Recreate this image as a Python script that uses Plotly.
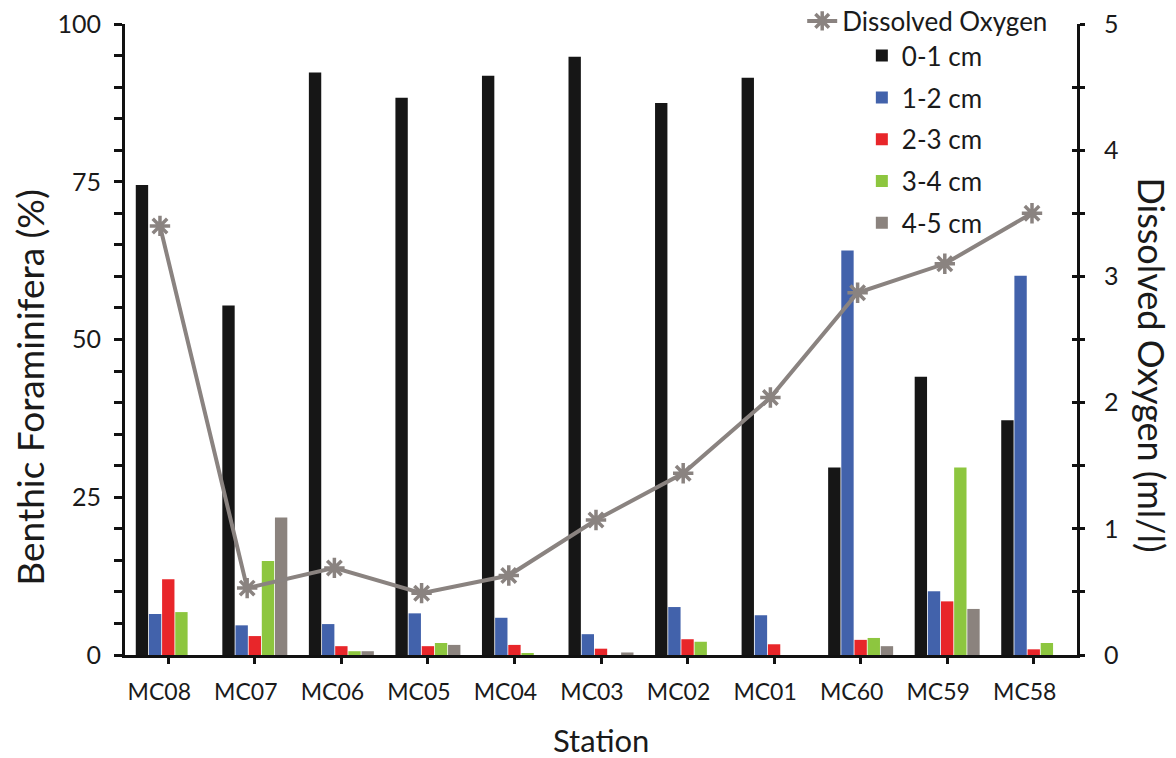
import plotly.graph_objects as go

# Stations along the transect
stations = ["MC08", "MC07", "MC06", "MC05", "MC04", "MC03",
            "MC02", "MC01", "MC60", "MC59", "MC58"]

# Benthic foraminifera (%) per sediment depth interval
depth_0_1 = [74.5, 55.4, 92.3, 88.3, 91.8, 94.8, 87.5, 91.5, 29.7, 44.1, 37.2]
depth_1_2 = [6.5, 4.7, 4.9, 6.6, 5.9, 3.3, 7.6, 6.3, 64.1, 10.1, 60.1]
depth_2_3 = [12.0, 3.0, 1.4, 1.4, 1.6, 1.0, 2.5, 1.7, 2.4, 8.5, 0.9]
depth_3_4 = [6.8, 14.9, 0.6, 1.9, 0.3, 0.0, 2.1, 0.0, 2.7, 29.7, 1.9]
depth_4_5 = [0.0, 21.8, 0.6, 1.6, 0.0, 0.4, 0.0, 0.0, 1.4, 7.3, 0.0]

# Bottom-water dissolved oxygen (ml/l)
dissolved_oxygen = [3.40, 0.53, 0.69, 0.49, 0.63, 1.07, 1.44, 2.04, 2.87, 3.10, 3.50]

depth_labels = ["0-1 cm", "1-2 cm", "2-3 cm", "3-4 cm", "4-5 cm"]
depth_series = [depth_0_1, depth_1_2, depth_2_3, depth_3_4, depth_4_5]
depth_colors = ["#161616", "#4262AB", "#E8262A", "#8DC63F", "#8B837E"]

FONT = "Lato"
AXIS_COLOR = "#111111"
LINE_GREY = "#8A8380"

fig = go.Figure()

for label, values, color in zip(depth_labels, depth_series, depth_colors):
    fig.add_trace(go.Bar(
        x=stations, y=values, name=label,
        marker=dict(color=color, line=dict(width=0)),
        legend="legend2", legendgroup=label, showlegend=True,
    ))

fig.add_trace(go.Scatter(
    x=stations, y=dissolved_oxygen, name="Dissolved Oxygen",
    mode="lines+markers",
    line=dict(color=LINE_GREY, width=4),
    marker=dict(symbol="asterisk-open", size=17,
                line=dict(color=LINE_GREY, width=3.5)),
    xaxis="x2", yaxis="y2", legend="legend", showlegend=True,
))

# Inward half of the crossing ticks on the oxygen axis
fig.add_trace(go.Scatter(
    x=[None], y=[None], xaxis="x2", yaxis="y3",
    showlegend=False, hoverinfo="skip",
))

fig.update_layout(
    width=1176, height=758,
    margin=dict(l=125, r=99, t=24, b=103, autoexpand=False),
    paper_bgcolor="white", plot_bgcolor="white",
    font=dict(family=FONT, size=23, color="#1a1a1a"),
    showlegend=True,
    barmode="group", bargap=0.24, bargroupgap=0.06,
    xaxis=dict(
        type="category", range=[-0.5, 10.5],
        showline=True, linecolor=AXIS_COLOR, linewidth=3,
        ticks="outside", ticklen=6, tickwidth=3, tickcolor=AXIS_COLOR,
        ticklabelshift=-9, ticklabelstandoff=8,
        tickfont=dict(size=23), showgrid=False, zeroline=False,
    ),
    xaxis2=dict(
        type="category", overlaying="x", range=[-0.401, 10.516],
        visible=False,
    ),
    yaxis=dict(
        range=[0, 100], dtick=25, tick0=0,
        showline=True, linecolor=AXIS_COLOR, linewidth=3,
        ticks="outside", ticklen=8, tickwidth=2.5, tickcolor=AXIS_COLOR,
        minor=dict(dtick=5, ticks="outside", ticklen=8, tickwidth=2.5,
                   tickcolor=AXIS_COLOR, showgrid=False),
        ticklabelstandoff=8, tickfont=dict(size=25),
        showgrid=False, zeroline=False,
    ),
    yaxis2=dict(
        range=[0, 5], dtick=1, tick0=0, overlaying="y", side="right",
        showline=True, linecolor=AXIS_COLOR, linewidth=3,
        ticks="outside", ticklen=5, tickwidth=2.5, tickcolor=AXIS_COLOR,
        minor=dict(dtick=0.5, ticks="outside", ticklen=5, tickwidth=2.5,
                   tickcolor=AXIS_COLOR, showgrid=False),
        ticklabelstandoff=14, tickfont=dict(size=25),
        showgrid=False, zeroline=False,
    ),
    yaxis3=dict(
        range=[0, 5], dtick=1, tick0=0, overlaying="y", side="right",
        showline=False, showticklabels=False,
        ticks="inside", ticklen=5, tickwidth=2.5, tickcolor=AXIS_COLOR,
        minor=dict(dtick=0.5, ticks="inside", ticklen=5, tickwidth=2.5,
                   tickcolor=AXIS_COLOR, showgrid=False),
        showgrid=False, zeroline=False,
    ),
    legend=dict(
        x=0.975, xanchor="right", y=1.042, yanchor="top",
        bgcolor="rgba(0,0,0,0)", font=dict(size=26),
    ),
    legend2=dict(
        x=0.774, xanchor="left", y=0.987, yanchor="top",
        bgcolor="rgba(0,0,0,0)", font=dict(size=26),
        traceorder="grouped", tracegroupgap=5,
    ),
    annotations=[
        dict(text="Station", xref="paper", yref="paper",
             x=0.5, y=-0.135, xanchor="center", yanchor="middle",
             showarrow=False, font=dict(size=31)),
        dict(text="Benthic Foraminifera (%)", xref="paper", yref="paper",
             x=-0.1, y=0.425, xanchor="center", yanchor="middle",
             textangle=-90, showarrow=False, font=dict(size=37)),
        dict(text="Dissolved Oxygen (ml/l)", xref="paper", yref="paper",
             x=1.079, y=0.46, xanchor="center", yanchor="middle",
             textangle=90, showarrow=False, font=dict(size=36)),
    ],
)

fig.write_html("out.html")
